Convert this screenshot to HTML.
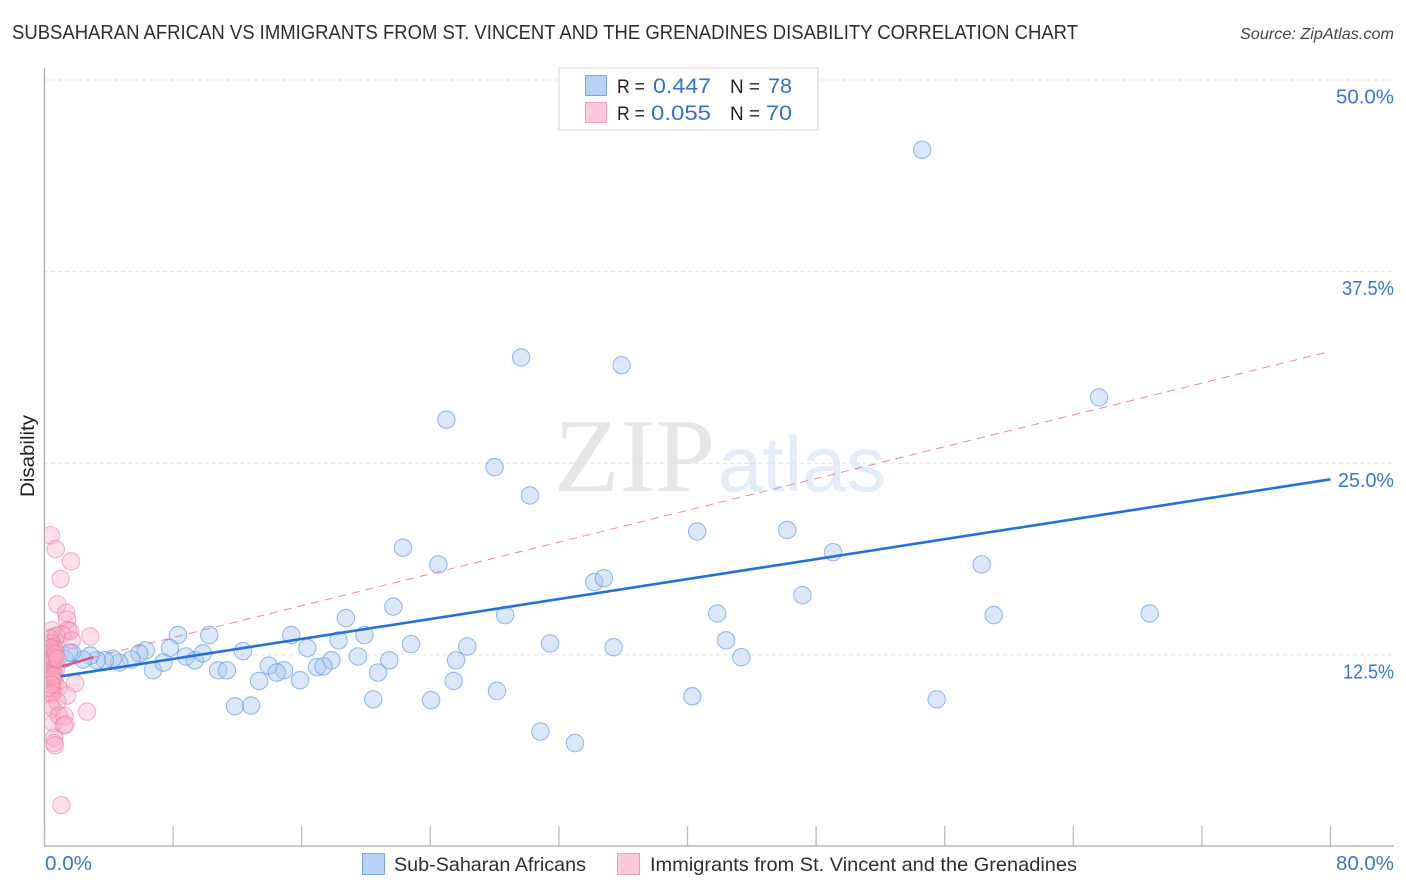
<!DOCTYPE html>
<html lang="en">
<head>
<meta charset="utf-8">
<title>Disability Correlation Chart</title>
<style>
html,body{margin:0;padding:0;background:#fff;width:1406px;height:892px;overflow:hidden}
svg{display:block;font-family:"Liberation Sans",sans-serif}
</style>
</head>
<body>
<svg id="chart" width="1406" height="892" viewBox="0 0 1406 892" xmlns="http://www.w3.org/2000/svg">
  <defs>
    <clipPath id="plot-clip"><rect x="45.5" y="60" width="1350" height="786"/></clipPath>
  </defs>
  <text x="12" y="39" font-size="20" fill="#2b2f36" textLength="1066" lengthAdjust="spacingAndGlyphs">SUBSAHARAN AFRICAN VS IMMIGRANTS FROM ST. VINCENT AND THE GRENADINES DISABILITY CORRELATION CHART</text>
  <text x="1394" y="39" font-size="16" font-style="italic" fill="#444" text-anchor="end" textLength="154" lengthAdjust="spacingAndGlyphs">Source: ZipAtlas.com</text>

  <g id="watermark">
    <text x="554" y="491" font-family="'Liberation Serif',serif" font-size="105" fill="#e6e6e6" textLength="161" lengthAdjust="spacingAndGlyphs">ZIP</text>
    <text x="718" y="491" font-size="78" fill="#e3ecf9" textLength="168" lengthAdjust="spacingAndGlyphs">atlas</text>
  </g>

  <g id="grid"></g>
  <g id="axes"></g>
  <g id="points-blue" clip-path="url(#plot-clip)"></g>
  <g id="points-pink" clip-path="url(#plot-clip)"></g>
  <g id="trends"></g>
  <g id="ticklabels"></g>

  <text transform="translate(34,456) rotate(-90)" font-size="19" fill="#222" text-anchor="middle" textLength="82" lengthAdjust="spacingAndGlyphs">Disability</text>

  <g id="stats-legend">
    <rect x="559" y="68" width="259" height="62" fill="#fff" fill-opacity="0.9" stroke="#e0e0e0" stroke-width="1.3"/>
    <rect x="585.5" y="75.5" width="21" height="20" fill="#b6d2f6" stroke="#7da6e0" stroke-width="1"/>
    <rect x="585.5" y="102.5" width="21" height="20" fill="#fcc9da" stroke="#f2a0ba" stroke-width="1"/>
    <text x="617" y="93" font-size="19" fill="#222" textLength="28" lengthAdjust="spacingAndGlyphs">R =</text>
    <text x="653" y="93" font-size="21" fill="#3472d0" textLength="58" lengthAdjust="spacingAndGlyphs">0.447</text>
    <text x="730" y="93" font-size="19" fill="#222" textLength="30" lengthAdjust="spacingAndGlyphs">N =</text>
    <text x="768" y="93" font-size="21" fill="#3472d0" textLength="24" lengthAdjust="spacingAndGlyphs">78</text>
    <text x="617" y="120" font-size="19" fill="#222" textLength="28" lengthAdjust="spacingAndGlyphs">R =</text>
    <text x="651" y="120" font-size="21" fill="#3472d0" textLength="60" lengthAdjust="spacingAndGlyphs">0.055</text>
    <text x="730" y="120" font-size="19" fill="#222" textLength="30" lengthAdjust="spacingAndGlyphs">N =</text>
    <text x="766" y="120" font-size="21" fill="#3472d0" textLength="26" lengthAdjust="spacingAndGlyphs">70</text>
  </g>

  <g id="bottom-legend">
    <rect x="362.5" y="853.5" width="22" height="21" fill="#b6d2f6" stroke="#7da6e0" stroke-width="1"/>
    <text x="394" y="871" font-size="19.5" fill="#2b2f36" textLength="192" lengthAdjust="spacingAndGlyphs">Sub-Saharan Africans</text>
    <rect x="617.5" y="853.5" width="22" height="21" fill="#fcc9da" stroke="#f2a0ba" stroke-width="1"/>
    <text x="650" y="871" font-size="19.5" fill="#2b2f36" textLength="427" lengthAdjust="spacingAndGlyphs">Immigrants from St. Vincent and the Grenadines</text>
  </g>
</svg>

<script>
var yTicks = [12.5, 25, 37.5, 50];
var yTickLabels = ["12.5%", "25.0%", "37.5%", "50.0%"];
var xTicks = [0, 8, 16, 24, 32, 40, 48, 56, 64, 72, 80];
var xEndLabels = ["0.0%", "80.0%"];

var blueX = [54.6,65.6,29.65,35.9,25.0,28.0,30.2,40.6,46.2,49.05,22.3,24.5,58.3,34.2,34.8,47.15,21.7,28.65,41.85,59.05,68.75,18.75,19.9,15.35,18.3,22.8,26.3,31.45,35.4,42.4,43.35,25.6,21.45,19.5,17.85,16.35,12.35,10.25,8.3,7.8,6.3,5.9,5.4,4.65,4.25,3.75,3.25,2.85,2.4,1.7,6.75,7.4,8.8,9.35,9.85,10.8,11.35,13.95,14.9,14.45,13.35,15.9,16.95,17.35,20.75,25.45,28.15,20.45,24.05,11.85,12.85,40.3,55.5,30.85,33.0,0.5,1.25,1.55];
var blueY = [45.5,29.35,31.95,31.45,27.9,24.8,22.95,20.6,20.7,19.25,19.55,18.45,18.45,17.3,17.55,16.45,15.7,15.15,15.25,15.15,15.25,14.95,13.85,13.85,13.5,13.25,13.1,13.3,13.05,13.5,12.4,12.2,12.2,12.45,12.2,13.0,12.8,13.85,13.85,13.0,12.85,12.65,12.25,12.05,12.3,12.2,12.2,12.5,12.25,12.7,11.55,12.05,12.45,12.2,12.65,11.55,11.55,11.85,11.55,11.4,10.85,10.9,11.75,11.8,11.4,10.85,10.2,9.65,9.6,9.2,9.25,9.85,9.65,7.55,6.8,13.7,12.3,12.7];

var pinkX = [0.4,0.7,1.65,1.0,0.8,1.35,1.4,1.45,1.6,1.1,2.85,0.45,0.75,1.7,0.35,0.45,0.55,0.35,0.5,0.3,0.45,0.55,0.65,0.35,0.5,0.6,0.3,0.45,0.55,0.65,0.35,0.5,0.3,0.45,0.55,0.7,0.35,0.5,0.55,0.3,0.45,0.65,1.9,0.35,0.5,0.85,0.35,0.5,1.4,0.8,0.35,0.5,0.55,0.9,1.25,2.65,1.2,1.3,0.6,0.6,0.65,1.05,0.4,0.5,0.4,0.55,0.7,0.6,0.4,0.8];
var pinkY = [20.35,19.45,18.65,17.5,15.85,15.3,14.85,14.15,14.1,13.9,13.75,14.15,13.8,13.5,13.6,13.3,13.1,12.9,12.8,12.6,12.5,12.7,12.9,12.3,12.2,12.3,12.0,11.9,11.95,12.1,11.7,11.6,11.4,11.3,11.5,11.6,11.1,11.0,10.9,10.8,10.65,10.8,10.7,10.4,10.3,10.4,10.05,10.0,9.9,9.5,9.3,9.05,8.1,8.6,8.55,8.85,7.95,8.0,7.15,6.8,6.65,2.75,13.0,12.05,11.2,12.4,12.6,11.2,10.6,12.3];

var blueTrendX = [1, 80];
var blueTrendY = [11.1, 23.95];
var pinkSolidX = [1.1, 3.05];
var pinkSolidY = [11.75, 12.35];
var pinkDashX = [3.05, 80];
var pinkDashY = [12.35, 32.3];

var SVG_NS = "http://www.w3.org/2000/svg";
function xScale(v){ return 44.5 + v * (1330.5 - 44.5) / 80; }
function yScale(v){ return 846.5 - v * (846.5 - 80) / 50; }
function make(tag, attrs, parent){
  var el = document.createElementNS(SVG_NS, tag);
  for (var k in attrs) { el.setAttribute(k, attrs[k]); }
  parent.appendChild(el);
  return el;
}

var gridG = document.getElementById("grid");
yTicks.forEach(function(t, i){
  var gl = make("line", {x1:44, x2:1394, y1:yScale(t), y2:yScale(t), stroke:"#e2e2e2", "stroke-width":1, "stroke-dasharray":"4 3"}, gridG);
  
  
});

var axesG = document.getElementById("axes");
var yAxis = make("line", {x1:44.5, x2:44.5, y1:68, y2:847, stroke:"#aaaaaa", "stroke-width":1.3}, axesG);


var xAxis = make("line", {x1:44, x2:1394, y1:846, y2:846, stroke:"#aaaaaa", "stroke-width":1.3}, axesG);


xTicks.forEach(function(t){
  var tk = make("line", {x1:xScale(t), x2:xScale(t), y1:826, y2:846, stroke:"#bbbbbb", "stroke-width":1.3}, axesG);
  
  
});

var blueG = document.getElementById("points-blue");
blueX.forEach(function(x, i){
  var c = make("circle", {cx:xScale(x), cy:yScale(blueY[i]) + 0.8, r:8.7, fill:"#a8c9f4", "fill-opacity":0.42, stroke:"#5a92e4", "stroke-opacity":0.6, "stroke-width":1.1}, blueG);
  
  
});

var pinkG = document.getElementById("points-pink");
pinkX.forEach(function(x, i){
  var c = make("circle", {cx:xScale(x), cy:yScale(pinkY[i]) + 0.8, r:8.7, fill:"#f9a9c2", "fill-opacity":0.36, stroke:"#ee7a9e", "stroke-opacity":0.55, "stroke-width":1.1}, pinkG);
  
  
});

var trendG = document.getElementById("trends");
var pd = make("line", {x1:xScale(pinkDashX[0]), x2:xScale(pinkDashX[1]), y1:yScale(pinkDashY[0]), y2:yScale(pinkDashY[1]), stroke:"#e88aa8", "stroke-width":1, "stroke-dasharray":"8 6"}, trendG);


var bt = make("line", {x1:xScale(blueTrendX[0]), x2:xScale(blueTrendX[1]), y1:yScale(blueTrendY[0]), y2:yScale(blueTrendY[1]), stroke:"#2272d8", "stroke-width":2.6}, trendG);


var ps = make("line", {x1:xScale(pinkSolidX[0]), x2:xScale(pinkSolidX[1]), y1:yScale(pinkSolidY[0]), y2:yScale(pinkSolidY[1]), stroke:"#d8588c", "stroke-width":2.6}, trendG);



function labelWidth(s){
  if (s.charAt(0) === "1") { return 51; }
  if (s.charAt(0) === "2") { return 56; }
  if (s.charAt(0) === "3") { return 52; }
  return 58;
}
var labelG = document.getElementById("ticklabels");
yTicks.forEach(function(t, i){
  var l = make("text", {x:1394, y:yScale(t) + 23.5, "font-size":20, fill:"#3a75d2", "text-anchor":"end", textLength:labelWidth(yTickLabels[i]), lengthAdjust:"spacingAndGlyphs"}, labelG);
  
  
  l.textContent = yTickLabels[i];
});
var xl0 = make("text", {x:45, y:870, "font-size":20, fill:"#3a75d2", textLength:47, lengthAdjust:"spacingAndGlyphs"}, labelG);


xl0.textContent = xEndLabels[0];
var xl1 = make("text", {x:1394, y:870, "font-size":20, fill:"#3a75d2", "text-anchor":"end", textLength:58, lengthAdjust:"spacingAndGlyphs"}, labelG);


xl1.textContent = xEndLabels[1];
</script>
</body>
</html>
